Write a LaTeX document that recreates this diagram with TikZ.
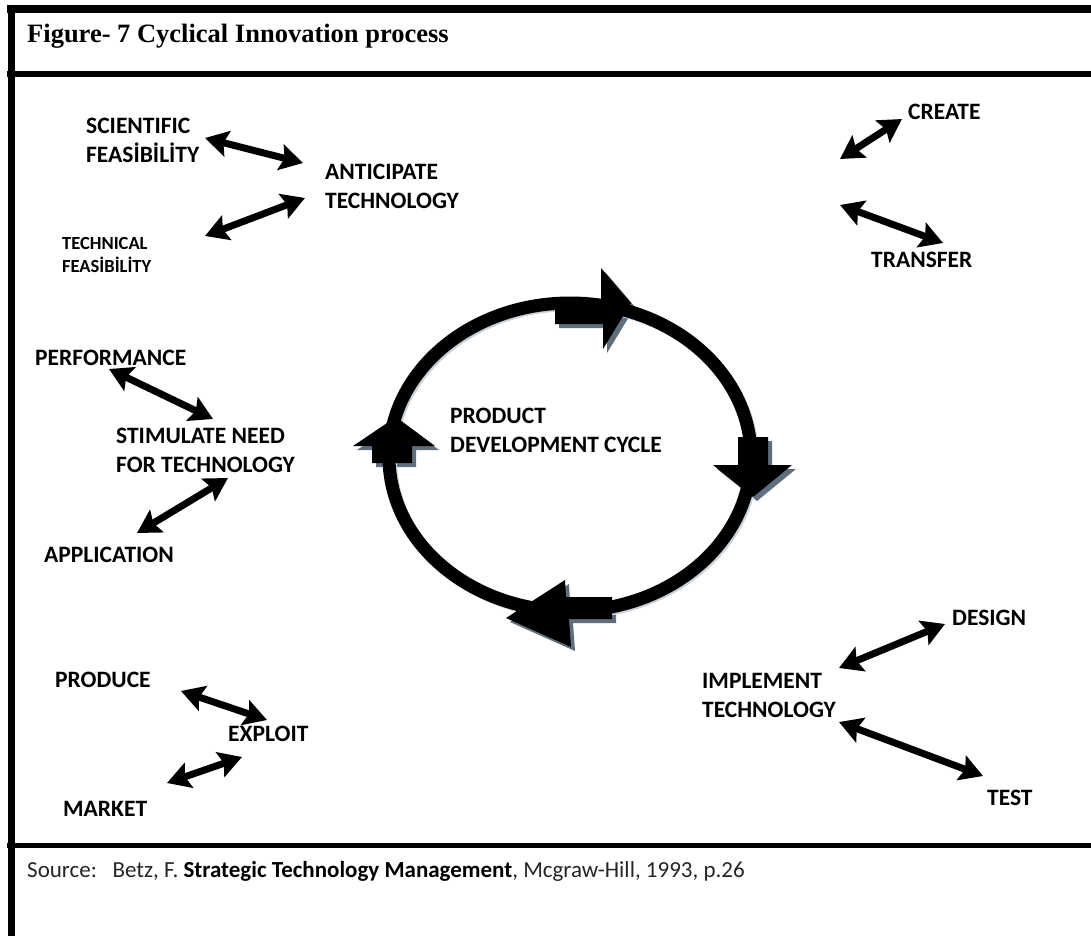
\documentclass[tikz,border=0pt]{standalone}
\usepackage{fontspec}
\setmainfont{Carlito}
\newfontfamily\titlefont{Liberation Serif}
\usetikzlibrary{arrows.meta}
\definecolor{shadowc}{HTML}{5E6E7C}
\definecolor{ringshadow}{HTML}{C9D0D6}
\definecolor{srcgray}{HTML}{262626}
\begin{document}
\begin{tikzpicture}[x=1pt,y=-1pt,
  lbl/.style={font=\bfseries\fontsize{23.5}{29}\selectfont, inner sep=0pt, anchor=west, align=left},
  smalllbl/.style={font=\bfseries\fontsize{18.5}{23}\selectfont, inner sep=0pt, anchor=west, align=left},
  dbl/.style={line width=7pt, {Stealth[length=23pt,width=26pt,inset=4pt]}-{Stealth[length=23pt,width=26pt,inset=4pt]}},
  frameline/.style={line width=#1, black},
]
\useasboundingbox (0,0) rectangle (1091,936);
\fill[white] (0,0) rectangle (1091,936);

% frame
\draw[frameline=8pt] (7,9) -- (1091,9);
\draw[frameline=7pt] (11,5) -- (11,936);
\draw[frameline=6pt] (7,74) -- (1091,74);
\draw[frameline=5pt] (7,845) -- (1091,845);

% title and source
\node[anchor=base west, inner sep=0pt, font=\titlefont\bfseries\fontsize{26.5}{30}\selectfont] (title) at (27,43) {Figure- 7 Cyclical Innovation process};
\node[anchor=base west, inner sep=0pt, text=srcgray, font=\fontsize{23}{27}\selectfont] (source) at (27,877) {Source:\ \ \ Betz, F. \textcolor{black}{\textbf{Strategic Technology Management}}, Mcgraw-Hill, 1993, p.26};

% labels
\node[lbl] (sci) at (86,140) {SCIENTIFIC\\FEASİBİLİTY};
\node[lbl] (anti) at (325,186) {ANTICIPATE\\TECHNOLOGY};
\node[smalllbl] (tech) at (62,255) {TECHNICAL\\FEASİBİLİTY};
\node[lbl] (create) at (908,112) {CREATE};
\node[lbl] (transfer) at (871,260) {TRANSFER};
\node[lbl] (perf) at (35,358) {PERFORMANCE};
\node[lbl] (stim) at (116,450) {STIMULATE NEED\\FOR TECHNOLOGY};
\node[lbl] (appl) at (44,555) {APPLICATION};
\node[lbl] (prod) at (55,680) {PRODUCE};
\node[lbl] (expl) at (228,734) {EXPLOIT};
\node[lbl] (mkt) at (63,809) {MARKET};
\node[lbl] (design) at (952,618) {DESIGN};
\node[lbl] (impl) at (702,695) {IMPLEMENT\\TECHNOLOGY};
\node[lbl] (test) at (987,798) {TEST};
\node[lbl] (pdc) at (450,430) {PRODUCT\\DEVELOPMENT CYCLE};

% arrow end points
\coordinate (sciA) at (205,138);  \coordinate (sciB) at (303,163);
\coordinate (techA) at (205,236); \coordinate (techB) at (305,198);
\coordinate (creA) at (840,159);  \coordinate (creB) at (902,119);
\coordinate (traA) at (840,205);  \coordinate (traB) at (943,243);
\coordinate (perA) at (109,369);  \coordinate (perB) at (213,419);
\coordinate (appA) at (137,533);  \coordinate (appB) at (228,478);
\coordinate (proA) at (181,691);  \coordinate (proB) at (267,720);
\coordinate (mktA) at (167,783);  \coordinate (mktB) at (242,757);
\coordinate (desA) at (839,668);  \coordinate (desB) at (945,624);
\coordinate (tesA) at (839,722);  \coordinate (tesB) at (983,776);

\draw[dbl] (sciA) -- (sciB);
\draw[dbl] (techA) -- (techB);
\draw[dbl] (creA) -- (creB);
\draw[dbl] (traA) -- (traB);
\draw[dbl] (perA) -- (perB);
\draw[dbl] (appA) -- (appB);
\draw[dbl] (proA) -- (proB);
\draw[dbl] (mktA) -- (mktB);
\draw[dbl] (desA) -- (desB);
\draw[dbl] (tesA) -- (tesB);

% cycle
\coordinate (cyc) at (570,457);
\def\arrTop{(555,304) -- (601,304) -- (601,268) -- (631,303) -- (603,349) -- (603,324) -- (555,324) -- cycle}
\def\arrRight{(738,437) -- (768,437) -- (768,465) -- (792,465) -- (753,497) -- (713,465) -- (738,465) -- cycle}
\def\arrBottom{(612,597) -- (566,597) -- (565,580) -- (506,618) -- (571,647) -- (569,619) -- (612,619) -- cycle}
\def\arrLeft{(372,463) -- (372,446) -- (353,446) -- (396,417) -- (435,446) -- (412,446) -- (412,463) -- cycle}

\begin{scope}[shift={(4,4)}]
  \fill[shadowc] \arrTop;
  \fill[shadowc] \arrRight;
  \fill[shadowc] \arrBottom;
  \fill[shadowc] \arrLeft;
\end{scope}
\draw[ringshadow, line width=12pt] ([shift={(2,2)}]cyc) ellipse [x radius=181, y radius=154];
\fill[black] \arrTop;
\fill[black] \arrRight;
\fill[black] \arrBottom;
\fill[black] \arrLeft;
\draw[black, line width=13pt] (cyc) ellipse [x radius=181, y radius=154];
\end{tikzpicture}
\end{document}
